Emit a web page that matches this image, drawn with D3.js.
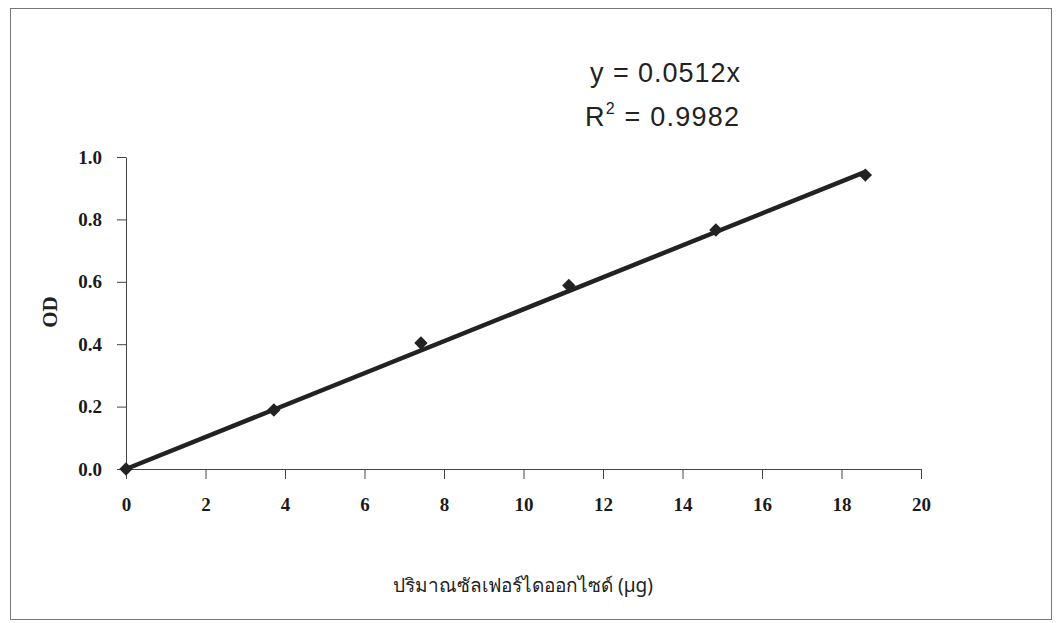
<!DOCTYPE html>
<html>
<head>
<meta charset="utf-8">
<script src="https://cdn.jsdelivr.net/npm/d3@7"></script>
<style>
  body { margin: 0; background: #fff; }
  svg { display: block; }
  .tick text { font-family: "Liberation Serif", "Times New Roman", serif; font-weight: bold; font-size: 19px; fill: #1a1a1a; }
  .domain, .tick line { stroke: #444; }
</style>
</head>
<body>
<figure id="chart" style="margin:0"></figure>
<script>
// sulfur dioxide amount (µg) vs OD
const amount = [0, 3.72, 7.42, 11.14, 14.84, 18.6];
const od = [0, 0.189, 0.404, 0.588, 0.766, 0.942];
const xTicks = [0, 2, 4, 6, 8, 10, 12, 14, 16, 18, 20];
const yTicks = [0, 0.2, 0.4, 0.6, 0.8, 1.0];
const slope = 0.0512;

const W = 1057, H = 623;
const plotLeft = 126, plotRight = 921, plotTop = 157, plotBottom = 469;

const svg = d3.select("#chart").append("svg")
  .attr("width", W)
  .attr("height", H);

// outer frame
svg.append("rect")
  .attr("x", 10.5).attr("y", 8.5)
  .attr("width", 1041).attr("height", 611)
  .attr("fill", "none")
  .attr("stroke", "#777");

const x = d3.scaleLinear().domain([0, 20]).range([plotLeft, plotRight]);
const y = d3.scaleLinear().domain([0, 1]).range([plotBottom, plotTop]);

// x axis
svg.append("g")
  .attr("transform", "translate(0," + plotBottom + ")")
  .call(d3.axisBottom(x).tickValues(xTicks).tickSize(10).tickSizeOuter(0).tickPadding(19));

// y axis
svg.append("g")
  .attr("transform", "translate(" + plotLeft + ",0)")
  .call(d3.axisLeft(y).tickValues(yTicks).tickFormat(d3.format(".1f")).tickSize(9).tickSizeOuter(0).tickPadding(15));

// trend line
svg.append("line")
  .attr("x1", x(0)).attr("y1", y(0))
  .attr("x2", x(d3.max(amount))).attr("y2", y(slope * d3.max(amount)))
  .attr("stroke", "#222")
  .attr("stroke-width", 4.5);

// diamonds
svg.selectAll("path.pt")
  .data(amount)
  .enter()
  .append("path")
  .attr("class", "pt")
  .attr("d", d3.symbol(d3.symbolSquare, 90))
  .attr("transform", (d, i) => "translate(" + x(d) + "," + y(od[i]) + ") rotate(45)")
  .attr("fill", "#222");

// equation
const eq = svg.append("g")
  .attr("font-family", "Liberation Sans, Arial, sans-serif")
  .attr("font-size", 27)
  .attr("fill", "#222");

eq.append("text")
  .attr("x", 590)
  .attr("y", 82)
  .attr("textLength", 150)
  .text("y = 0." + "0512" + "x");

const r2 = eq.append("text")
  .attr("x", 585)
  .attr("y", 126)
  .attr("textLength", 154);
r2.append("tspan").text("R");
r2.append("tspan").attr("font-size", 16).attr("dy", -12).text("2");
r2.append("tspan").attr("dy", 12).text(" = 0.9982");

// axis titles
svg.append("text")
  .attr("transform", "translate(57,312) rotate(-90)")
  .attr("text-anchor", "middle")
  .attr("font-family", "Liberation Serif, serif")
  .attr("font-weight", "bold")
  .attr("font-size", 21)
  .attr("fill", "#222")
  .text("OD");

svg.append("text")
  .attr("x", 523)
  .attr("y", 592)
  .attr("text-anchor", "middle")
  .attr("font-family", "Noto Sans, DejaVu Sans, sans-serif")
  .attr("font-size", 19)
  .attr("fill", "#222")
  .text("ปริมาณซัลเฟอร์ไดออกไซด์ (µg)");
</script>
</body>
</html>
